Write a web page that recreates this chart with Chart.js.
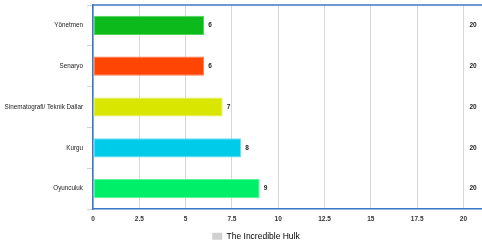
<!DOCTYPE html>
<html>
<head>
<meta charset="utf-8">
<script src="https://cdn.jsdelivr.net/npm/chart.js@4/dist/chart.umd.min.js"></script>
<style>
  html, body { margin: 0; padding: 0; background: #fff; }
  #wrap { width: 482px; height: 245px; }
</style>
</head>
<body>
<div id="wrap"><canvas id="myChart" width="482" height="245"></canvas></div>
<script>
const categories = ['Yönetmen', 'Senaryo', 'Sinematografi/ Teknik Dallar', 'Kurgu', 'Oyunculuk'];
const scores = [6, 6, 7, 8, 9];
const maxScores = [20, 20, 20, 20, 20];
const xTicks = [0, 2.5, 5, 7.5, 10, 12.5, 15, 17.5, 20];
const seriesName = 'The Incredible Hulk';

const barColors = ['#0cba1b', '#ff4503', '#d8e600', '#00cbe9', '#00ef68'];
const barEdges = ['#4fd35b', '#ff7a47', '#e4ee55', '#66ddf2', '#5cf59c'];
const axisBlue = '#3b78c6';

// bold numbers after each bar plus the max score column on the right,
// and the blue line along the top of the plot
const valueText = {
    id: 'valueText',
    beforeLayout(chart) {
        // keep the legend strip a fixed 16px tall
        const legend = chart.legend;
        if (legend && !legend._fixedFit) {
            const fit = legend.fit;
            legend.fit = function () {
                fit.call(this);
                this.height = 16;
            };
            legend._fixedFit = true;
        }
    },
    afterLayout(chart) {
        // legend sits a little right of the canvas centre
        chart.legend.left += 30;
    },
    afterDatasetsDraw(chart) {
        const ctx = chart.ctx;
        const x = chart.scales.x;
        const area = chart.chartArea;
        const meta = chart.getDatasetMeta(0);
        ctx.save();
        ctx.font = 'bold 6.5px "Liberation Sans", Arial, sans-serif';
        ctx.fillStyle = '#222';
        ctx.textBaseline = 'middle';
        ctx.textAlign = 'left';
        meta.data.forEach((bar, i) => {
            ctx.fillText(String(scores[i]), bar.x + 4, bar.y);
            ctx.fillText(String(maxScores[i]), x.getPixelForValue(maxScores[i]) + 6, bar.y);
        });
        ctx.strokeStyle = axisBlue;
        ctx.lineWidth = 1.5;
        ctx.beginPath();
        ctx.moveTo(area.left, area.top);
        ctx.lineTo(area.right, area.top);
        ctx.stroke();
        ctx.restore();
    }
};

const ctx = document.getElementById('myChart').getContext('2d');
const myChart = new Chart(ctx, {
    type: 'bar',
    data: {
        labels: categories,
        datasets: [{
            label: seriesName,
            data: scores,
            backgroundColor: barColors,
            borderColor: barEdges,
            borderWidth: 1,
            borderSkipped: false,
            barPercentage: 0.47,
            categoryPercentage: 1
        }]
    },
    options: {
        indexAxis: 'y',
        responsive: false,
        animation: false,
        layout: { padding: { top: 5, right: 0, left: 0, bottom: 0 } },
        scales: {
            x: {
                type: 'linear',
                position: 'bottom',
                min: 0,
                max: 21,
                afterBuildTicks: axis => {
                    axis.ticks = xTicks.map(v => ({ value: v }));
                },
                afterFit: axis => { axis.height = 20; },
                border: { color: axisBlue, width: 1.5 },
                grid: { color: '#d6d6d6', lineWidth: 1, drawTicks: false },
                ticks: {
                    padding: 6,
                    color: '#333',
                    maxRotation: 0,
                    font: { family: '"Liberation Sans", Arial, sans-serif', size: 6.5, weight: 'bold' }
                }
            },
            y: {
                afterFit: axis => {
                    axis.width = 93;
                    axis.paddingTop = 0;
                    axis.paddingBottom = 0;
                },
                border: { color: axisBlue, width: 1.5 },
                grid: { drawOnChartArea: false, color: '#c8d4e4', tickLength: 6, offset: true },
                ticks: {
                    padding: 4,
                    color: '#222',
                    font: { family: '"Liberation Sans", Arial, sans-serif', size: 6.3 }
                }
            }
        },
        plugins: {
            tooltip: { enabled: false },
            legend: {
                position: 'bottom',
                labels: {
                    boxWidth: 10,
                    boxHeight: 7,
                    padding: 3,
                    color: '#555',
                    font: { family: '"Liberation Sans", Arial, sans-serif', size: 8.5 },
                    generateLabels: () => [{
                        text: seriesName,
                        fillStyle: '#d0d0d0',
                        strokeStyle: '#d0d0d0',
                        lineWidth: 0,
                        hidden: false,
                        datasetIndex: 0
                    }]
                }
            }
        }
    },
    plugins: [valueText]
});
</script>
</body>
</html>
